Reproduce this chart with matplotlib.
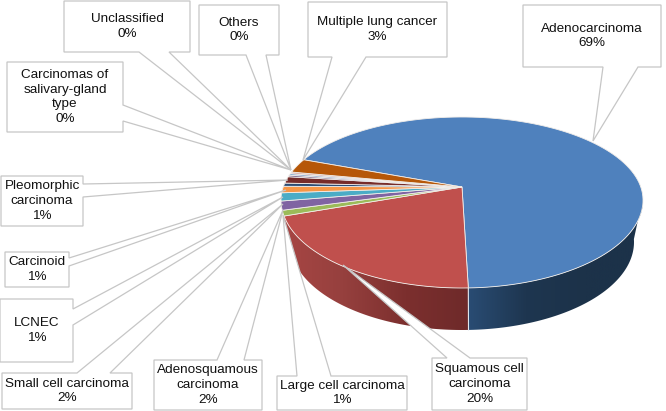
import numpy as np
import matplotlib
matplotlib.use('Agg')
import matplotlib.pyplot as plt
from matplotlib.patches import Polygon
from matplotlib.colors import LinearSegmentedColormap

plt.rcParams['font.family'] = ['Liberation Sans', 'DejaVu Sans']

names = ['Adenocarcinoma', 'Squamous cell\ncarcinoma', 'Large cell carcinoma',
         'Adenosquamous\ncarcinoma', 'Small cell carcinoma', 'LCNEC', 'Carcinoid',
         'Pleomorphic\ncarcinoma', 'Carcinomas of\nsalivary-gland\ntype', 'Others',
         'Unclassified', 'Multiple lung cancer']
values = [69, 20, 1.0, 1.6, 1.5, 1.2, 0.6, 1.2, 0.3, 0.3, 0.3, 3]
colors = ['#4f81bd', '#c0504d', '#9bbb59', '#8064a2', '#4bacc6', '#f79646',
          '#2c4d75', '#772c2a', '#5f497a', '#729aca', '#d0a0a0', '#b65708']

# pie geometry in image pixels
APEX = (462, 187)
CX, CY = 462, 200
RX, RY_UP, RY_DOWN = 181, 83, 88
SIDE_RX, SIDE_CY = 172, 242

# box (x0, y0, x1, y1), pointer base two points, pointer tip
callouts = [
    ((523, 5, 661, 67), [(638, 67), (603, 67)], (593, 141)),
    ((432, 358, 527, 410), [(470, 358), (447, 358)], (343, 265)),
    ((277, 376, 407, 410), [(331, 376), (297, 376)], (283, 215)),
    ((154, 360, 262, 410), [(244, 360), (217, 360)], (283, 210)),
    ((2, 373, 132, 409), [(110, 373), (77, 373)], (283, 204)),
    ((0, 299, 73, 362), [(73, 325), (73, 309)], (283, 197)),
    ((5, 252, 69, 287), [(69, 266), (69, 258)], (286, 190)),
    ((1, 176, 83, 226), [(83, 197), (83, 184)], (288, 180)),
    ((7, 62, 123, 132), [(123, 121), (123, 105)], (291, 170)),
    ((199, 5, 279, 55), [(266, 55), (246, 55)], (291, 170)),
    ((64, 1, 190, 52), [(169, 52), (139, 52)], (291, 170)),
    ((308, 2, 447, 57), [(366, 57), (332, 57)], (303, 160)),
]


def rim(t):
    t = np.radians(t)
    ry = np.where(np.sin(t) > 0, RY_UP, RY_DOWN)
    return CX + RX * np.cos(t), CY - ry * np.sin(t)


def side_rim(t):
    t = np.radians(t)
    ry = np.where(np.sin(t) > 0, RY_UP, RY_DOWN)
    return CX + SIDE_RX * np.cos(t), SIDE_CY - ry * np.sin(t)


cum = np.concatenate([[0], np.cumsum(values)])
total = cum[-1]
# the view squeezes the far left of the pie, so shares are not a plain rotation
knots = [0, values[0], values[0] + values[1], total - values[-1], total]
angles = [151, -88, -169.5, -199.7, -209]
edges = np.interp(cum, knots, angles)

fig = plt.figure(figsize=(6.66, 4.11), dpi=100)
ax = fig.add_axes([0, 0, 1, 1])

# side wall, gradient images clipped to the wall outline
side_parts = [
    (-88, 2, (466, 645), ['#2a4d75', '#1e3650', '#1c3249', '#1c3249']),
    (-169.5, -88, (280, 469), ['#a84644', '#96403e', '#7c2f2e', '#6e2a2a']),
]
ramp = np.linspace(0, 1, 256).reshape(1, -1)
for start, end, xr, stops in side_parts:
    ts = np.linspace(start, end, 100)
    ux, uy = rim(ts)
    lx, ly = side_rim(ts)
    outline = np.column_stack([np.r_[ux, lx[::-1]], np.r_[uy, ly[::-1]]])
    clip = Polygon(outline, closed=True, transform=ax.transData, fc='none', ec='none')
    ax.add_patch(clip)
    im = ax.imshow(ramp, extent=(xr[0], xr[1], 340, 190), aspect='auto', zorder=2,
                   cmap=LinearSegmentedColormap.from_list('side', stops))
    im.set_clip_path(clip)
ux, uy = rim(np.array(-88.0))
lx, ly = side_rim(np.array(-88.0))
ax.plot([float(ux), float(lx) + 0.5], [float(uy), float(ly)], color='#dfe6ee', lw=0.8, zorder=3)

# top face
for i, col in enumerate(colors):
    ts = np.linspace(edges[i], edges[i + 1], 120)
    x, y = rim(ts)
    pts = np.column_stack([np.r_[APEX[0], x], np.r_[APEX[1], y]])
    ax.add_patch(Polygon(pts, closed=True, fc=col, ec='#f2eeea', lw=0.6, zorder=4))

# callouts
for i, (box, base, tip) in enumerate(callouts):
    x0, y0, x1, y1 = box
    if base[0][1] == y0:      # pointer leaves from the top edge
        path = [(x0, y0), base[1], tip, base[0], (x1, y0), (x1, y1), (x0, y1)]
    elif base[0][1] == y1:    # bottom edge
        path = [(x0, y0), (x1, y0), (x1, y1), base[0], tip, base[1], (x0, y1)]
    else:                     # right edge
        path = [(x0, y0), (x1, y0), base[1], tip, base[0], (x1, y1), (x0, y1)]
    ax.add_patch(Polygon(path, closed=True, fc='white', ec='#c6c6c6', lw=0.9, zorder=5))
    label = f"{names[i]}\n{values[i]:.0f}%"
    ax.text((x0 + x1) / 2, (y0 + y1) / 2, label, ha='center', va='center',
            fontsize=9.7, color='#111111', linespacing=1.33, zorder=6)

ax.set_xlim(0, 666)
ax.set_ylim(411, 0)
ax.axis('off')

fig.savefig('out.png', dpi=100)
